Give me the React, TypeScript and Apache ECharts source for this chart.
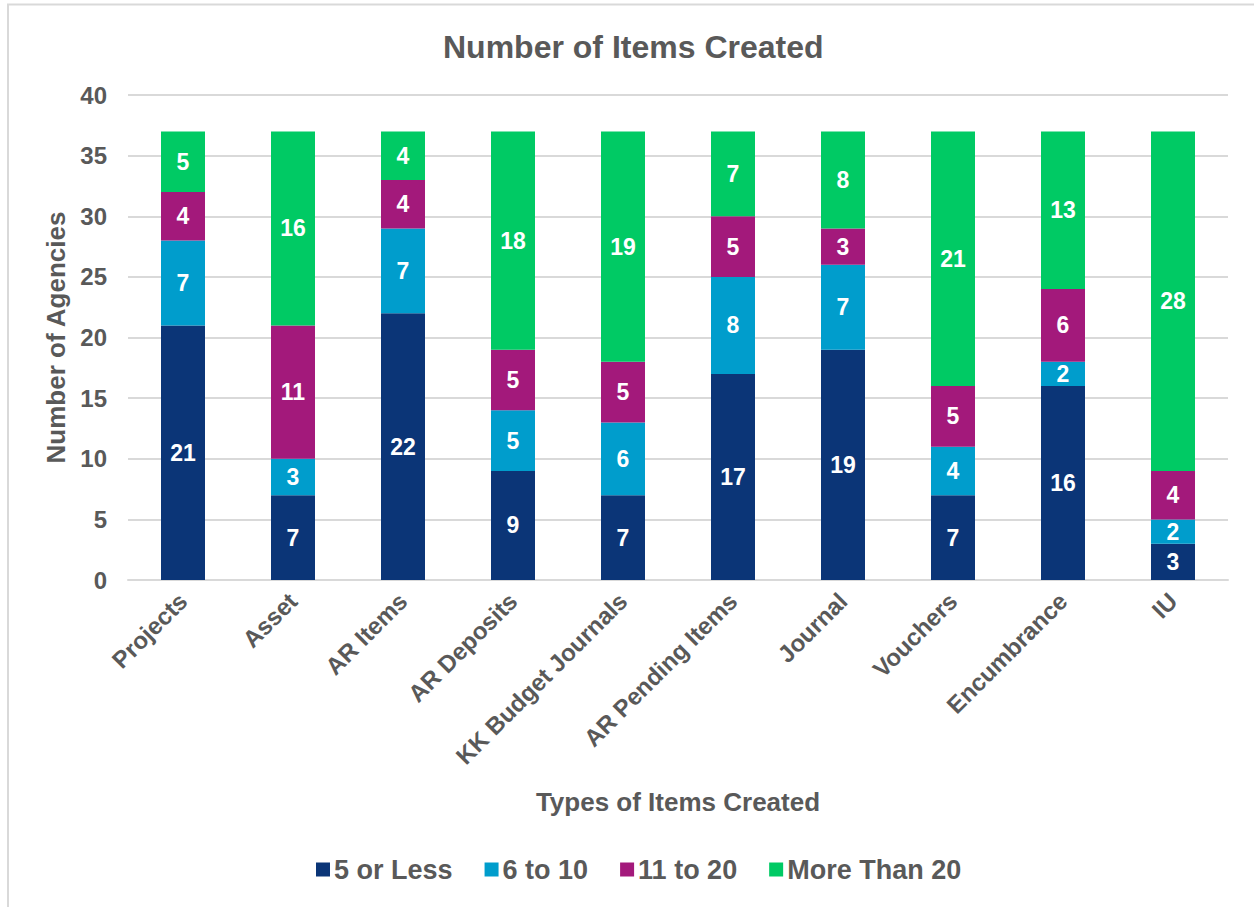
import React, { useEffect, useRef } from "react";
import * as echarts from "echarts";

const categories = ["Projects", "Asset", "AR Items", "AR Deposits", "KK Budget Journals", "AR Pending Items", "Journal", "Vouchers", "Encumbrance", "IU"];
const fiveOrLess = [21, 7, 22, 9, 7, 17, 19, 7, 16, 3];
const sixToTen = [7, 3, 7, 5, 6, 8, 7, 4, 2, 2];
const elevenToTwenty = [4, 11, 4, 5, 5, 5, 3, 5, 6, 4];
const moreThanTwenty = [5, 16, 4, 18, 19, 7, 8, 21, 13, 28];
const seriesNames = ["5 or Less", "6 to 10", "11 to 20", "More Than 20"];
const colors = ["#0B3577", "#009DCC", "#A3197B", "#00CA64"];

const FONT = "'Liberation Sans', Arial, sans-serif";
const GRAY = "#595959";

export default function App() {
  const ref = useRef<HTMLDivElement>(null);
  useEffect(() => {
    if (!ref.current) return;
    const chart = echarts.init(ref.current, null, { renderer: "svg" });
    const data = [fiveOrLess, sixToTen, elevenToTwenty, moreThanTwenty];
    chart.setOption({
      animation: false,
      backgroundColor: "#ffffff",
      textStyle: { fontFamily: FONT },
      title: {
        text: "Number of Items Created",
        left: 438,
        top: 26,
        textStyle: { fontFamily: FONT, fontSize: 32, fontWeight: "bold", color: GRAY },
      },
      graphic: [
        {
          type: "rect",
          shape: { x: 8, y: 4.5, width: 1400, height: 1000 },
          style: { fill: "none", stroke: "#D9D9D9", lineWidth: 2 },
          silent: true,
        },
      ],
      legend: {
        bottom: 19,
        left: 311,
        itemWidth: 14,
        itemHeight: 14,
        itemGap: 32,
        icon: "rect",
        textStyle: { fontFamily: FONT, fontSize: 27, fontWeight: "bold", color: GRAY, padding: [0, 0, 0, -1] },
        data: seriesNames,
      },
      grid: { left: 128, right: 26, top: 95, bottom: 327, containLabel: false },
      xAxis: {
        type: "category",
        data: categories,
        name: "Types of Items Created",
        nameLocation: "middle",
        nameGap: 209,
        nameTextStyle: { fontFamily: FONT, fontSize: 26, fontWeight: "bold", color: GRAY },
        axisLine: { lineStyle: { color: "#D9D9D9", width: 2 } },
        axisTick: { show: false },
        axisLabel: {
          rotate: 45,
          interval: 0,
          margin: 17,
          fontFamily: FONT,
          fontSize: 24,
          fontWeight: "bold",
          color: GRAY,
        },
      },
      yAxis: {
        type: "value",
        min: 0,
        max: 40,
        interval: 5,
        name: "Number of Agencies",
        nameLocation: "middle",
        nameGap: 55,
        nameTextStyle: { fontFamily: FONT, fontSize: 26, fontWeight: "bold", color: GRAY },
        axisLine: { show: false },
        axisTick: { show: false },
        splitLine: { lineStyle: { color: "#D9D9D9", width: 2 } },
        axisLabel: { fontFamily: FONT, fontSize: 24, fontWeight: "bold", color: GRAY, margin: 21 },
      },
      series: seriesNames.map((name, i) => ({
        name,
        type: "bar",
        stack: "total",
        barWidth: 44,
        data: data[i],
        itemStyle: { color: colors[i] },
        label: {
          show: true,
          position: "inside",
          color: "#ffffff",
          fontFamily: FONT,
          fontSize: 23,
          fontWeight: "bold",
        },
      })),
    });
    return () => chart.dispose();
  }, []);
  return <div ref={ref} style={{ position: "fixed", left: 0, top: 0, width: 1254, height: 907 }} />;
}
